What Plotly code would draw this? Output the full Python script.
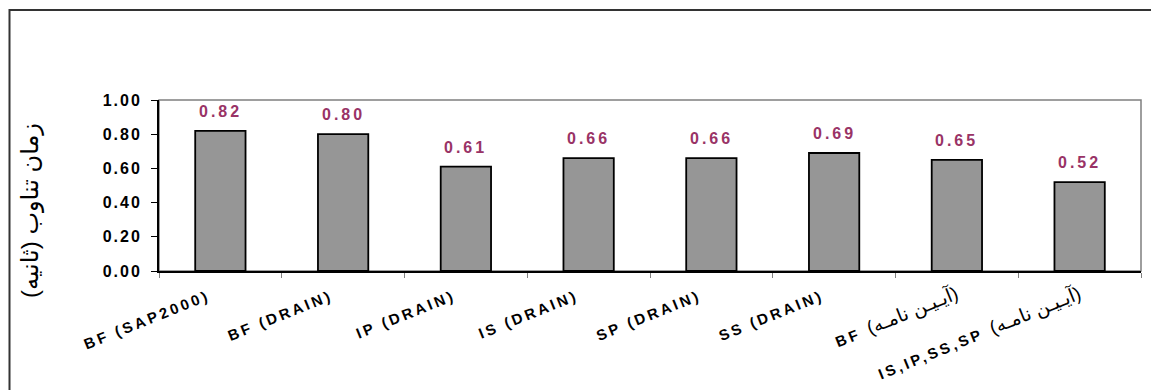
import plotly.graph_objects as go

# Fundamental period of each model / method
FA = '<span style="font-size:19px;font-weight:normal">(آیـیـن نامـه)</span>'
categories = [
    "<b>BF (SAP2000)</b>",
    "<b>BF (DRAIN)</b>",
    "<b>IP (DRAIN)</b>",
    "<b>IS (DRAIN)</b>",
    "<b>SP (DRAIN)</b>",
    "<b>SS (DRAIN)</b>",
    "<b>BF</b>  " + FA,
    "<b>IS,IP,SS,SP</b>  " + FA,
]
periods = [0.82, 0.80, 0.61, 0.66, 0.66, 0.69, 0.65, 0.52]
y_ticks = [0.0, 0.2, 0.4, 0.6, 0.8, 1.0]
y_title = "زمان تناوب (ثانیه)"

W, H = 1151, 390
L, R, T, B = 159, 10, 100, 119
pw, ph = W - L - R, H - T - B

fig = go.Figure()
fig.add_trace(go.Bar(
    x=categories,
    y=periods,
    marker=dict(color="#969696", line=dict(color="#000000", width=1.8)),
    hoverinfo="skip",
))

# value labels above the bars
for c, v in zip(categories, periods):
    fig.add_annotation(
        x=c, y=v, xref="x", yref="y",
        text=f"<b>{v:.2f}</b>",
        showarrow=False, yanchor="bottom", yshift=9,
        font=dict(family="Liberation Sans, Arial", size=16, color="#993366"),
    )

# vertical axis title
fig.add_annotation(
    x=(30 - L) / pw, y=(T + ph - 211) / ph, xref="paper", yref="paper",
    text=y_title, textangle=-90, showarrow=False,
    xanchor="center", yanchor="middle",
    font=dict(family="Liberation Sans, DejaVu Sans, Arial", size=24, color="#000000"),
)

# plot-area frame (grey) and outer chart border
fig.add_shape(type="rect", xref="paper", yref="paper", x0=0, x1=1, y0=0, y1=1,
              line=dict(color="#7f7f7f", width=1.5), layer="below")
fig.add_shape(type="rect", xref="paper", yref="paper",
              x0=(9.5 - L) / pw, x1=(W + 20 - L) / pw,
              y0=(T + ph - (H + 20)) / ph, y1=(T + ph - 10) / ph,
              line=dict(color="#333333", width=2), layer="below")

fig.update_layout(
    width=W, height=H,
    margin=dict(l=L, r=R, t=T, b=B, pad=0),
    paper_bgcolor="#ffffff", plot_bgcolor="#ffffff",
    bargap=0.59, showlegend=False,
    font=dict(family="Liberation Sans, DejaVu Sans, Arial", color="#000000"),
)
fig.update_xaxes(
    showline=True, linecolor="#000000", linewidth=2,
    ticks="outside", tickson="boundaries", ticklen=5, tickcolor="#808080", tickwidth=1,
    tickangle=-22, tickfont=dict(size=15, color="#000000"),
    showgrid=False, zeroline=False, ticklabelstandoff=8,
)
fig.update_yaxes(
    range=[0, 1], tickvals=y_ticks, tickformat=".2f",
    showline=True, linecolor="#000000", linewidth=2,
    ticks="outside", ticklen=6, tickcolor="#000000", tickwidth=1,
    tickfont=dict(size=16, color="#000000", weight="bold"),
    showgrid=False, zeroline=False, ticklabelstandoff=6,
)

# wider letter spacing for the Latin labels; pure-Latin category labels sit a bit left of centre
label_js = """
document.querySelectorAll('.ytick text').forEach(function(t){t.style.letterSpacing='2px';});
document.querySelectorAll('.xtick text').forEach(function(t){
  var persian = /[\\u0600-\\u06FF]/.test(t.textContent);
  t.querySelectorAll('tspan').forEach(function(s){
    if (!/[\\u0600-\\u06FF]/.test(s.textContent)) { s.style.letterSpacing='3px'; }
  });
  if (!persian) {
    var tr = t.getAttribute('transform') || '';
    t.setAttribute('transform', 'translate(-12,1) ' + tr);
  }
});
document.querySelectorAll('.annotation-text tspan').forEach(function(t){
  if (/^[0-9.]+$/.test(t.textContent)) { t.style.letterSpacing='3px'; }
});
"""

fig.write_html("out.html", post_script=label_js)
